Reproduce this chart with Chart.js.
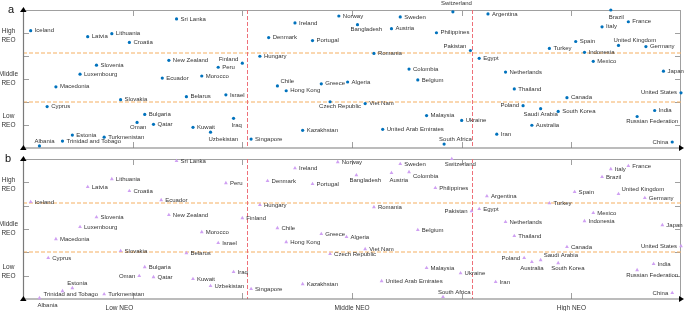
<!DOCTYPE html>
<html>
<head>
<meta charset="utf-8">
<script src="https://cdn.jsdelivr.net/npm/chart.js@4.4.0/dist/chart.umd.min.js"></script>
<style>
  html, body { margin: 0; padding: 0; background: #fff; }
  body { width: 685px; height: 311px; position: relative; overflow: hidden; }
  canvas { position: absolute; left: 0; }
  #chartA { top: 0; }
  #chartB { top: 148px; }
</style>
</head>
<body>
<canvas id="chartA" width="685" height="152"></canvas>
<canvas id="chartB" width="685" height="163"></canvas>
<script>
// axis labels and where they sit
const neoTickLabels = ['Low NEO', 'Middle NEO', 'High NEO'];
const neoLabelAt = [0.88, 3, 5];
const reoTickLabels = [['Low', 'REO'], ['Middle', 'REO'], ['High', 'REO']];
const reoLabelAt = [1.18, 3, 4.9];
const neoCuts = [2.04, 4.09];
const reoCuts = [2.0, 4.11];

// panel a
const countriesA = ['Iceland', 'Latvia', 'Lithuania', 'Croatia', 'Sri Lanka', 'Slovenia', 'Luxembourg', 'Macedonia',
  'New Zealand', 'Finland', 'Peru', 'Ecuador', 'Morocco', 'Slovakia', 'Belarus', 'Israel', 'Cyprus', 'Bulgaria',
  'Oman', 'Qatar', 'Kuwait', 'Iraq', 'Uzbekistan', 'Albania', 'Estonia', 'Trinidad and Tobago', 'Turkmenistan',
  'Ireland', 'Norway', 'Bangladesh', 'Sweden', 'Austria', 'Denmark', 'Portugal', 'Philippines', 'Switzerland',
  'Hungary', 'Romania', 'Colombia', 'Pakistan', 'Chile', 'Hong Kong', 'Greece', 'Algeria', 'Belgium',
  'Czech Republic', 'Viet Nam', 'Malaysia', 'Kazakhstan', 'United Arab Emirates', 'Singapore', 'South Africa',
  'Argentina', 'Brazil', 'France', 'Italy', 'Spain', 'United Kingdom', 'Germany', 'Turkey', 'Indonesia', 'Egypt',
  'Mexico', 'Netherlands', 'Japan', 'Thailand', 'United States', 'Canada', 'Poland', 'Saudi Arabia', 'South Korea',
  'India', 'Russian Federation', 'Ukraine', 'Australia', 'Iran', 'China'];
const neoA = [0.07, 0.59, 0.81, 0.97, 1.40, 0.67, 0.52, 0.30, 1.33, 2.00, 1.78, 1.27, 1.63, 0.89, 1.49, 1.85, 0.22, 1.11,
  1.04, 1.19, 1.55, 1.92, 1.71, 0.15, 0.45, 0.36, 0.74, 2.48, 2.88, 3.05, 3.44, 3.36, 2.24, 2.64, 3.77, 3.92,
  2.16, 3.20, 3.52, 4.08, 2.32, 2.40, 2.72, 2.96, 3.60, 2.80, 3.12, 3.68, 2.55, 3.28, 2.08, 3.84,
  4.24, 5.36, 5.52, 5.28, 5.04, 5.43, 5.68, 4.80, 5.12, 4.16, 5.20, 4.40, 5.84, 4.48, 6.00, 4.96, 4.56, 4.72, 4.88,
  5.76, 5.60, 4.00, 4.64, 4.32, 5.92];
const reoA = [5.10, 4.84, 4.97, 4.59, 5.61, 3.60, 3.21, 2.66, 3.81, 3.69, 3.51, 3.04, 3.13, 2.10, 2.23, 2.31, 1.80, 1.46,
  1.11, 1.03, 0.90, 1.29, 0.69, 0.09, 0.56, 0.30, 0.47, 5.44, 5.74, 5.36, 5.70, 5.19, 4.80, 4.67, 5.01, 5.92,
  3.99, 4.11, 3.43, 4.24, 2.70, 2.49, 2.79, 2.87, 2.96, 2.01, 1.93, 1.41, 0.77, 0.81, 0.39, 0.17,
  5.83, 6.00, 5.49, 5.27, 4.63, 4.46, 4.41, 4.33, 4.16, 3.90, 3.77, 3.30, 3.34, 2.57, 2.40, 2.19, 1.84, 1.71, 1.59,
  1.63, 1.37, 1.20, 0.99, 0.60, 0.26];
const placeA = ['r', 'r', 'r', 'r', 'r', 'r', 'r', 'r', 'r', 'la', 'r', 'r', 'r', 'r', 'r', 'r', 'r', 'r',
  'br', 'r', 'r', 'bs', 'bs', 'ar', 'r', 'r', 'r', 'r', 'r', 'br', 'r', 'r', 'r', 'r', 'r', 'at',
  'r', 'r', 'r', 'la', 'ra', 'r', 'r', 'r', 'r', 'bw', 'r', 'r', 'r', 'r', 'r', 'ar',
  'r', 'bs', 'r', 'r', 'r', 'ar', 'r', 'r', 'r', 'r', 'r', 'r', 'r', 'r', 'l', 'r', 'l', 'b', 'r',
  'r', 'bw', 'r', 'r', 'r', 'l'];

// panel b
const countriesB = ['Sri Lanka', 'Lithuania', 'Latvia', 'Croatia', 'Peru', 'Iceland', 'Ecuador', 'Slovenia',
  'New Zealand', 'Luxembourg', 'Morocco', 'Ireland', 'Norway', 'Sweden', 'Switzerland', 'Bangladesh', 'Austria',
  'Colombia', 'Denmark', 'Portugal', 'Philippines', 'Hungary', 'Romania', 'Finland', 'Chile', 'Belgium', 'Pakistan',
  'Italy', 'France', 'Brazil', 'Argentina', 'Spain', 'United Kingdom', 'Germany', 'Turkey', 'Egypt', 'Mexico',
  'Indonesia', 'Netherlands', 'Japan', 'Thailand', 'Canada', 'United States', 'Poland', 'Saudi Arabia', 'Australia',
  'South Korea', 'India', 'Russian Federation', 'Ukraine', 'Iran', 'China', 'South Africa', 'Macedonia', 'Israel',
  'Slovakia', 'Belarus', 'Cyprus', 'Bulgaria', 'Oman', 'Qatar', 'Kuwait', 'Iraq', 'Uzbekistan', 'Estonia',
  'Trinidad and Tobago', 'Turkmenistan', 'Albania', 'Greece', 'Algeria', 'Hong Kong', 'Viet Nam', 'Czech Republic',
  'Malaysia', 'Kazakhstan', 'United Arab Emirates', 'Singapore'];
const neoB = [1.40, 0.81, 0.59, 0.97, 1.85, 0.07, 1.26, 0.67, 1.33, 0.52, 1.63, 2.48, 2.87, 3.44, 3.91, 3.04, 3.36,
  3.52, 2.23, 2.64, 3.76, 2.16, 3.20, 2.00, 2.32, 3.60, 4.09, 5.36, 5.52, 5.28, 4.23, 5.03, 5.43, 5.67, 4.80, 4.16,
  5.20, 5.12, 4.40, 5.83, 4.48, 4.96, 6.00, 4.57, 4.72, 4.64, 4.88, 5.75, 5.60, 3.99, 4.31, 5.92, 3.83, 0.30, 1.78,
  0.89, 1.49, 0.23, 1.11, 1.06, 1.19, 1.55, 1.92, 1.71, 0.45, 0.36, 0.74, 0.15, 2.72, 2.95, 2.40, 3.12, 2.80,
  3.68, 2.55, 3.27, 2.08];
const reoB = [5.92, 5.14, 4.80, 4.63, 4.97, 4.16, 4.24, 3.51, 3.60, 3.09, 2.87, 5.61, 5.87, 5.79, 6.00, 5.31, 5.40,
  5.44, 5.06, 4.93, 4.76, 4.03, 3.94, 3.47, 3.04, 2.96, 3.77, 5.57, 5.70, 5.23, 4.41, 4.59, 4.50, 4.33, 4.11, 3.86,
  3.69, 3.34, 3.30, 3.17, 2.70, 2.23, 2.27, 1.76, 1.67, 1.59, 1.54, 1.50, 1.24, 1.11, 0.73, 0.26, 0.09, 2.57, 2.40,
  2.06, 1.97, 1.76, 1.37, 0.99, 0.94, 0.86, 1.16, 0.56, 0.47, 0.34, 0.21, 0.04, 2.79, 2.66, 2.44, 2.14, 1.93,
  1.33, 0.64, 0.77, 0.43];
const placeB = ['r', 'r', 'r', 'r', 'r', 'r', 'r', 'r', 'r', 'r', 'r', 'r', 'r', 'r', 'br', 'br', 'bs',
  'rb', 'r', 'r', 'r', 'r', 'r', 'r', 'r', 'r', 'l', 'r', 'r', 'r', 'r', 'r', 'ra', 'r', 'r', 'r',
  'r', 'r', 'r', 'r', 'r', 'r', 'l', 'l', 'ra', 'b', 'br', 'r', 'bw', 'r', 'r', 'l', 'ar', 'r', 'r',
  'r', 'r', 'r', 'r', 'l', 'r', 'r', 'r', 'r', 'ar', 'ov', 'r', 'bs', 'r', 'r', 'r', 'r', 'r',
  'r', 'r', 'r', 'r'];

// label offset from its point: dx, dy, align
const labelOffsets = {
  r: [4, 0, 'left'], l: [-4, 0, 'right'], b: [0, 6, 'center'],
  br: [-7, 5, 'left'], bs: [-2, 7, 'left'], bw: [-11, 5, 'left'],
  ar: [-5, -5, 'left'], la: [-4, -4, 'right'], ra: [3, -5, 'left'],
  rb: [4, 4, 'left'], at: [-12, -8, 'left'], ov: [-19, 3, 'left']
};

const FONT = "'Liberation Sans', Arial, sans-serif";
Chart.defaults.font.family = FONT;

function noPadding(s) {
  s.paddingTop = 0; s.paddingBottom = 0; s.paddingLeft = 0; s.paddingRight = 0;
}

function framePlugin(names, place, letter) {
  return {
    id: 'frame',
    beforeDatasetsDraw(chart) {
      const { ctx, chartArea: a, scales: { x, y } } = chart;
      ctx.save();
      ctx.lineWidth = 1;
      // top and right border
      ctx.strokeStyle = '#a0a0a0';
      ctx.beginPath();
      ctx.moveTo(a.left, a.top + 0.5); ctx.lineTo(a.right, a.top + 0.5);
      ctx.moveTo(a.right - 0.5, a.top); ctx.lineTo(a.right - 0.5, a.bottom);
      ctx.stroke();
      // inward ticks
      ctx.beginPath();
      for (let v = 1; v <= 5; v++) {
        const px = Math.round(x.getPixelForValue(v)) + 0.5;
        ctx.moveTo(px, a.top); ctx.lineTo(px, a.top + 6);
        ctx.moveTo(px, a.bottom); ctx.lineTo(px, a.bottom - 6);
        const py = Math.round(y.getPixelForValue(v)) + 0.5;
        ctx.moveTo(a.left, py); ctx.lineTo(a.left + 6, py);
        ctx.moveTo(a.right, py); ctx.lineTo(a.right - 6, py);
      }
      ctx.stroke();
      // cut lines
      ctx.lineWidth = 1.2;
      ctx.setLineDash([4, 2]);
      ctx.strokeStyle = '#f6b062';
      reoCuts.forEach(v => {
        const py = Math.round(y.getPixelForValue(v));
        ctx.beginPath(); ctx.moveTo(a.left, py); ctx.lineTo(a.right, py); ctx.stroke();
      });
      ctx.lineWidth = 1;
      ctx.strokeStyle = '#ee7079';
      neoCuts.forEach(v => {
        const px = Math.round(x.getPixelForValue(v)) + 0.5;
        ctx.beginPath(); ctx.moveTo(px, a.top); ctx.lineTo(px, a.bottom); ctx.stroke();
      });
      ctx.setLineDash([]);
      // main axes
      ctx.strokeStyle = '#7a7a7a';
      ctx.lineWidth = 1.2;
      ctx.beginPath();
      ctx.moveTo(a.left + 0.5, a.top); ctx.lineTo(a.left + 0.5, a.bottom);
      ctx.lineTo(a.right, a.bottom);
      ctx.stroke();
      ctx.restore();
    },
    afterDatasetsDraw(chart) {
      const { ctx, chartArea: a } = chart;
      const pts = chart.getDatasetMeta(0).data;
      ctx.save();
      ctx.font = '6px ' + FONT;
      ctx.fillStyle = '#333';
      ctx.textBaseline = 'middle';
      pts.forEach((p, i) => {
        const o = labelOffsets[place[i]];
        ctx.textAlign = o[2];
        ctx.fillText(names[i], p.x + o[0], p.y + o[1]);
      });
      // arrow heads
      ctx.fillStyle = '#000';
      ctx.beginPath();
      ctx.moveTo(a.left - 3, a.top + 2); ctx.lineTo(a.left + 3.5, a.top + 2); ctx.lineTo(a.left + 0.5, a.top - 3);
      ctx.closePath(); ctx.fill();
      ctx.beginPath();
      ctx.moveTo(a.right - 2, a.bottom - 3); ctx.lineTo(a.right - 2, a.bottom + 3); ctx.lineTo(a.right + 3, a.bottom);
      ctx.closePath(); ctx.fill();
      ctx.beginPath();
      ctx.moveTo(a.left - 3, a.bottom + 2); ctx.lineTo(a.left + 3.5, a.bottom + 2); ctx.lineTo(a.left + 0.5, a.bottom - 3);
      ctx.closePath(); ctx.fill();
      // panel letter
      ctx.font = '11px ' + FONT;
      ctx.textAlign = 'left';
      ctx.textBaseline = 'alphabetic';
      ctx.fillStyle = '#111';
      ctx.fillText(letter, letter === 'a' ? 8 : 5, a.top + 3);
      ctx.restore();
    }
  };
}

function buildChart(canvasId, names, neo, reo, place, opts) {
  return new Chart(document.getElementById(canvasId), {
    type: 'scatter',
    data: {
      datasets: [{
        data: names.map((n, i) => ({ x: neo[i], y: reo[i] })),
        pointStyle: opts.pointStyle,
        pointRadius: opts.radius,
        backgroundColor: opts.color,
        borderColor: opts.color,
        borderWidth: 0,
        clip: false
      }]
    },
    options: {
      responsive: false,
      animation: false,
      layout: { padding: { left: 0, right: 4, top: opts.top, bottom: 0 } },
      plugins: { legend: { display: false }, tooltip: { enabled: false } },
      scales: {
        x: {
          type: 'linear', min: 0, max: 6,
          grid: { display: false, drawTicks: false },
          border: { display: false },
          afterBuildTicks: s => { s.ticks = neoLabelAt.map(v => ({ value: v })); },
          ticks: {
            display: opts.xLabels, padding: 5, color: '#333', font: { size: 6.5 },
            maxRotation: 0, autoSkip: false,
            callback: (v, i) => neoTickLabels[i]
          },
          afterFit: s => { s.height = opts.xHeight; noPadding(s); }
        },
        y: {
          min: 0, max: 6,
          grid: { display: false, drawTicks: false },
          border: { display: false },
          afterBuildTicks: s => { s.ticks = reoLabelAt.map(v => ({ value: v })); },
          ticks: {
            padding: 5, color: '#333', font: { size: 6.5, lineHeight: 1.4 },
            crossAlign: 'center', autoSkip: false,
            callback: (v, i) => reoTickLabels[i]
          },
          afterFit: s => { s.width = 23; noPadding(s); }
        }
      }
    },
    plugins: [framePlugin(names, place, opts.letter)]
  });
}

buildChart('chartA', countriesA, neoA, reoA, placeA, {
  pointStyle: 'circle', radius: 1.6, color: '#0072bd', top: 10, xHeight: 2, xLabels: false, letter: 'a'
});
buildChart('chartB', countriesB, neoB, reoB, placeB, {
  pointStyle: 'triangle', radius: 2.2, color: '#cfa0f2', top: 11, xHeight: 12, xLabels: true, letter: 'b'
});
</script>
</body>
</html>
